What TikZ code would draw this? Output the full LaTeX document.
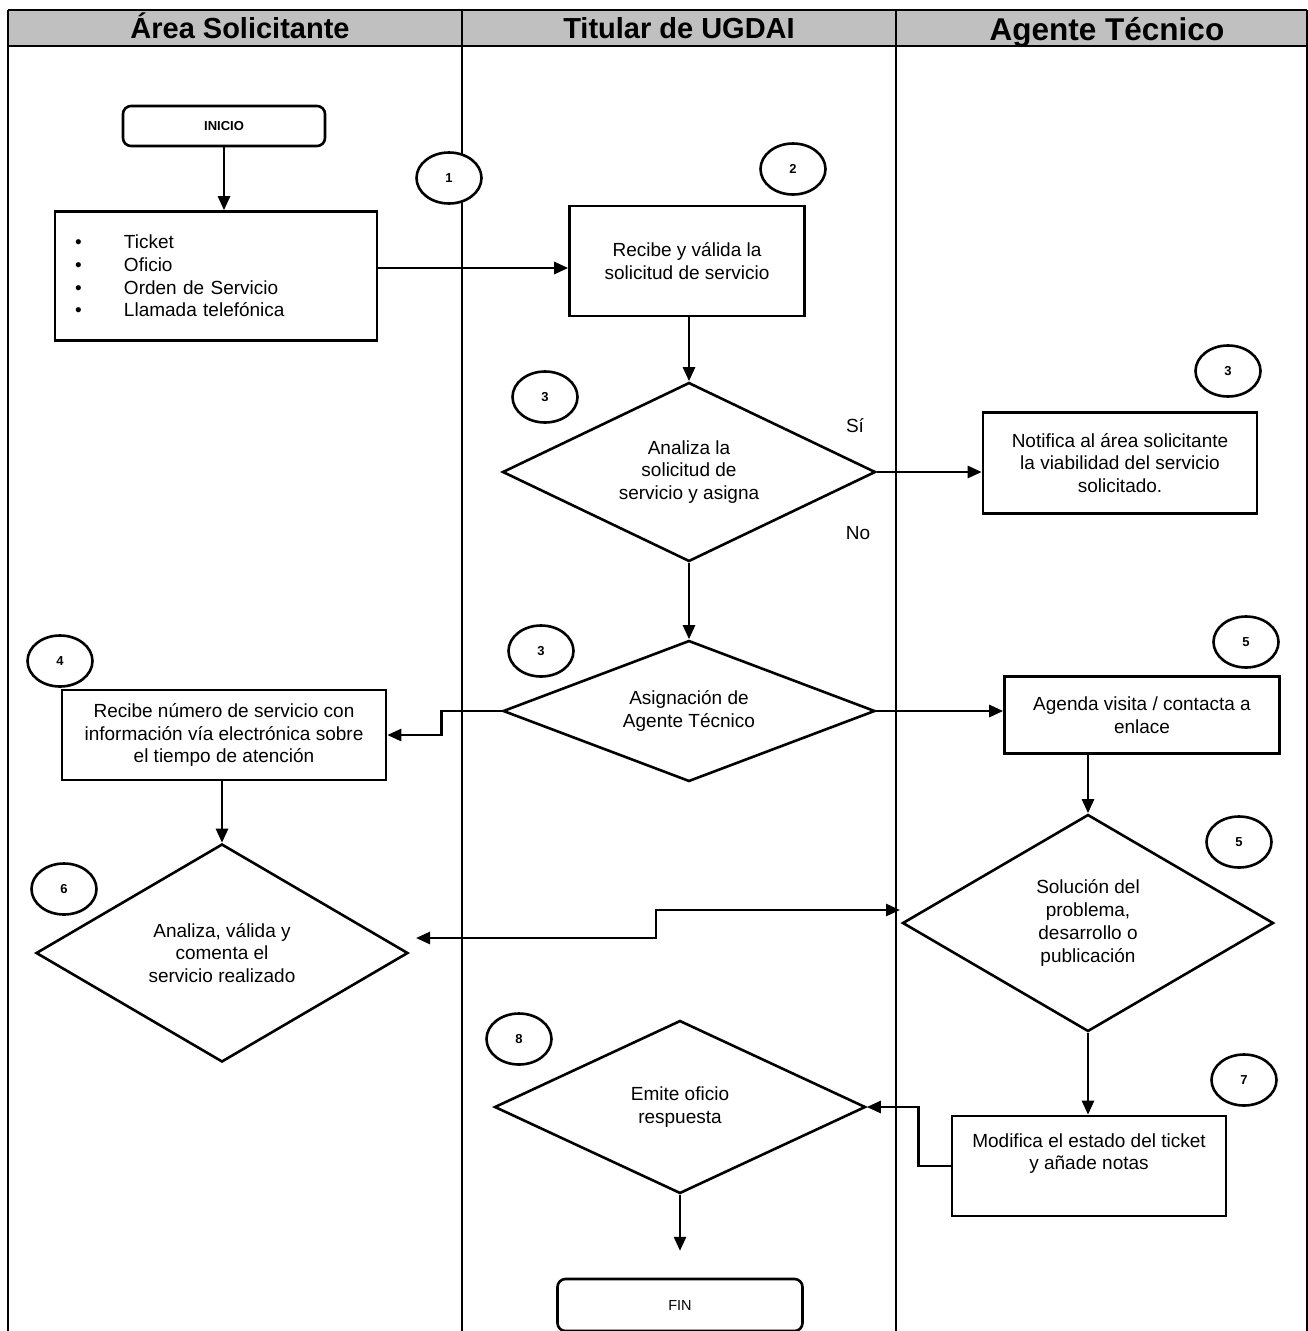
\documentclass[tikz,border=0pt]{standalone}
\usepackage{fontspec}
\setmainfont{Liberation Sans}
\usetikzlibrary{positioning, arrows.meta, shapes.geometric}

\definecolor{headgrey}{RGB}{192,192,192}

\begin{document}
\begin{tikzpicture}[
    x=1pt, y=-1pt,
    >={Triangle[length=14pt, width=12pt]},
    lane/.style={line width=1.6pt},
    head/.style={font=\fontsize{29}{32}\selectfont\bfseries, anchor=base, inner sep=0pt},
    proc/.style={rectangle, draw, line width=2.6pt, fill=white, align=center,
        font=\fontsize{19}{22.7}\selectfont, inner sep=2pt},
    term/.style={rectangle, rounded corners=8pt, draw, line width=2.6pt, fill=white,
        align=center, font=\fontsize{13}{15}\selectfont},
    decision/.style={diamond, draw, line width=2.6pt, fill=white, align=center,
        inner sep=0pt, font=\fontsize{19}{22.7}\selectfont},
    stepno/.style={ellipse, draw, line width=2.6pt, fill=white, inner sep=0pt,
        minimum width=65pt, minimum height=51pt, font=\fontsize{13}{15}\selectfont\bfseries},
    lbl/.style={font=\fontsize{19}{22}\selectfont, inner sep=0pt},
    flow/.style={->, line width=2.6pt}
]
\useasboundingbox (0,0) rectangle (1308,1331);

% lanes and header
\fill[headgrey] (8,10) rectangle (1307,46);
\draw[line width=2.6pt] (8,10) -- (1307,10);
\draw[line width=2.6pt] (8,46) -- (1307,46);
\draw[line width=2.6pt] (8,10) -- (8,1331);
\draw[lane] (462,10) -- (462,1331);
\draw[lane] (896,10) -- (896,1331);
\draw[lane] (1307,10) -- (1307,1331);

\node[head] (hArea) at (240,38) {Área Solicitante};
\node[head] (hTitular) at (679,38) {Titular de UGDAI};
\node[head, font=\fontsize{31.5}{34}\selectfont\bfseries] (hAgente) at (1107,40) {Agente Técnico};

% Area Solicitante
\node[term, minimum width=202pt, minimum height=40pt] (inicio) at (224,126) {\textbf{INICIO}};
\node[proc, minimum width=322pt, minimum height=129pt, text width=282pt,
    inner xsep=20pt, align=left] (medios) at (216,276)
    {\makebox[49pt][l]{\textbullet}Ticket\\
     \makebox[49pt][l]{\textbullet}Oficio\\
     \makebox[49pt][l]{\textbullet}Orden de Servicio\\
     \makebox[49pt][l]{\textbullet}Llamada telefónica};
\node[stepno] (n1) at (449,178) {1};
\node[stepno] (n4) at (60,661) {4};
\node[proc, minimum width=324pt, minimum height=90pt] (numserv) at (224,735)
    {Recibe número de servicio con\\información vía electrónica sobre\\el tiempo de atención};
\node[stepno] (n6) at (64,889) {6};
\node[decision, minimum width=372pt, minimum height=218pt, shape aspect=1.7] (valida) at (222,953)
    {Analiza, válida y\\comenta el\\servicio realizado};

% Titular de UGDAI
\node[stepno] (n2) at (793,169) {2};
\node[proc, minimum width=235pt, minimum height=110pt] (recibe) at (687,261)
    {Recibe y válida la\\solicitud de servicio};
\node[stepno] (n3a) at (545,397) {3};
\node[decision, minimum width=373pt, minimum height=179pt, shape aspect=2.08] (analiza) at (689,472)
    {Analiza la\\solicitud de\\servicio y asigna};
\node[lbl] (si) at (855,426) {Sí};
\node[lbl] (no) at (858,533) {No};
\node[stepno] (n3c) at (541,651) {3};
\node[decision, minimum width=372pt, minimum height=141pt, shape aspect=2.64] (asigna) at (689,711)
    {Asignación de\\Agente Técnico};
\node[stepno] (n8) at (519,1039) {8};
\node[decision, minimum width=371pt, minimum height=173pt, shape aspect=2.14] (emite) at (680,1107)
    {Emite oficio\\respuesta};
\node[term, minimum width=245pt, minimum height=52pt, font=\fontsize{14.5}{16}\selectfont] (fin) at (680,1305) {FIN};

% Agente Tecnico
\node[stepno] (n3b) at (1228,371) {3};
\node[proc, minimum width=274pt, minimum height=101pt] (notifica) at (1120,463)
    {Notifica al área solicitante\\la viabilidad del servicio\\solicitado.};
\node[stepno] (n5a) at (1246,642) {5};
\node[proc, minimum width=275pt, minimum height=77pt] (agenda) at (1142,715)
    {Agenda visita / contacta a\\enlace};
\node[stepno] (n5b) at (1239,842) {5};
\node[decision, minimum width=371pt, minimum height=217pt, shape aspect=1.71] (solucion) at (1088,923)
    {Solución del\\problema,\\desarrollo o\\publicación};
\node[stepno] (n7) at (1244,1080) {7};
\node[proc, minimum width=274pt, minimum height=100pt] (modifica) at (1089,1166)
    {Modifica el estado del ticket\\y añade notas\\[6pt]};

% connectors
\coordinate (rv6) at (416,938);
\coordinate (rv3) at (900,910);

\draw[flow] (inicio.south) -- (inicio.south |- medios.north);
\draw[flow] (medios.east |- 0,268) -- (recibe.west |- 0,268);
\draw[flow] (recibe.south -| analiza.north) -- (analiza.north);
\draw[flow] (analiza.east) -- (analiza.east -| notifica.west);
\draw[flow] (analiza.south) -- (asigna.north);
\draw[flow] (asigna.west) -- ++(-60,0) |- (numserv.east);
\draw[flow] (asigna.east) -- (asigna.east -| agenda.west);
\draw[flow] (numserv.south -| valida.north) -- (valida.north);
\draw[flow] (solucion.north |- agenda.south) -- (solucion.north);
\draw[flow, <->] (rv6) -- ++(240,0) |- (rv3);
\draw[flow] (solucion.south) -- (solucion.south |- modifica.north);
\draw[flow] (modifica.west) -- ++(-32,0) |- (emite.east);
\draw[flow] (emite.south) -- ++(0,56);

\end{tikzpicture}
\end{document}
